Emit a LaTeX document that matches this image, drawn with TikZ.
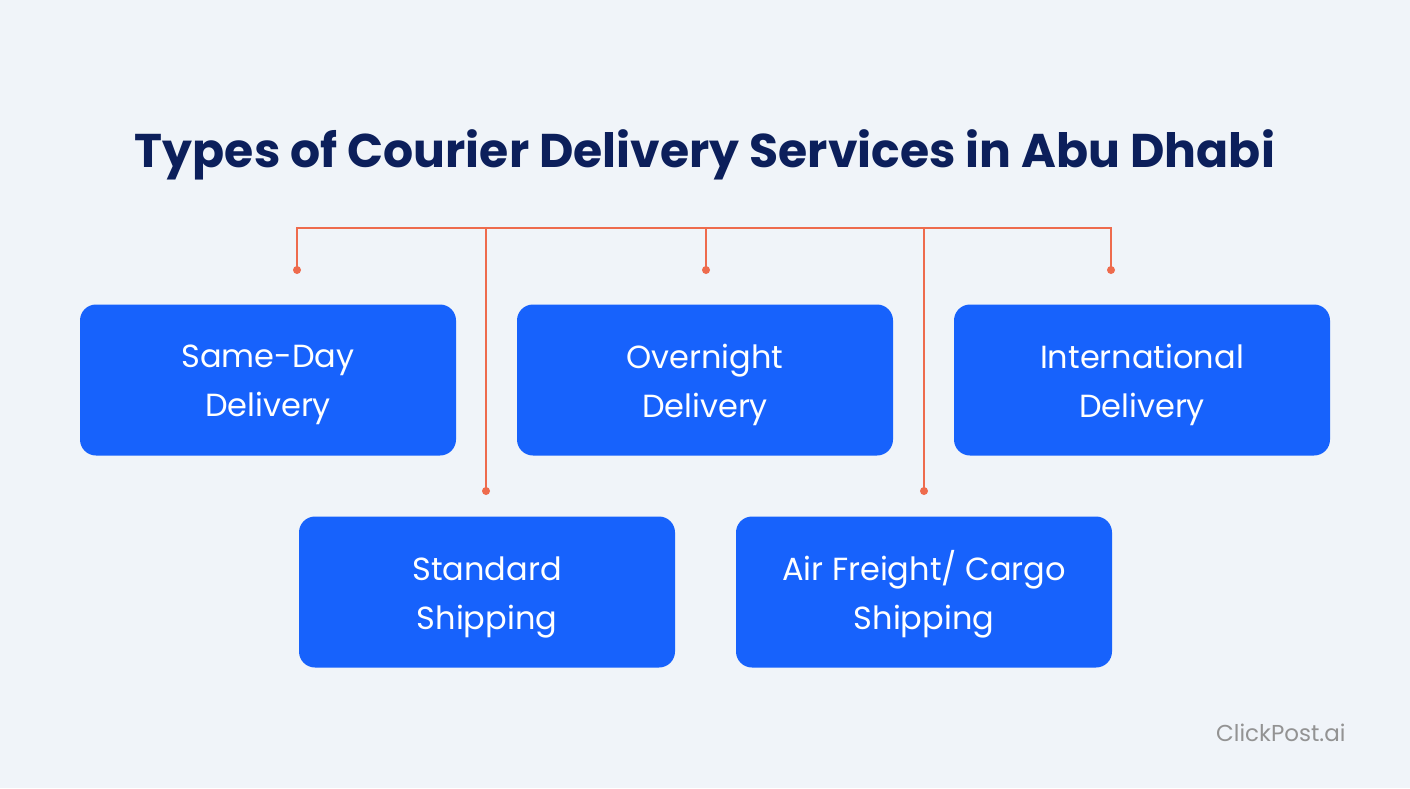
\documentclass[tikz,border=0pt]{standalone}
\usepackage{fontspec}
\setmainfont{Poppins}
\begin{document}
\begin{tikzpicture}[x=1pt,y=-1pt,
  box/.style={fill=boxblue,rounded corners=16pt,minimum width=376pt,minimum height=151pt,inner sep=0pt},
  conn/.style={draw=lineor,line width=1.6pt},
  lbl/.style={text=white,align=center,font=\fontsize{32}{49}\selectfont}]
\definecolor{bg}{HTML}{F0F4F9}
\definecolor{boxblue}{HTML}{1762FC}
\definecolor{lineor}{HTML}{EE6B4D}
\definecolor{navy}{HTML}{0C1F5B}
\fill[bg] (0,0) rectangle (1410,788);
\useasboundingbox (0,0) rectangle (1410,788);
\node[font=\bfseries\fontsize{47.3}{52}\selectfont,text=navy] (title) at (705,155) {Types of Courier Delivery Services in Abu Dhabi};
\node[box] (b1) at (268,380) {};
\node[box] (b2) at (705,380) {};
\node[box] (b3) at (1142,380) {};
\node[box] (b4) at (487,592) {};
\node[box] (b5) at (924,592) {};
\node[lbl] (l1) at ([yshift=-5pt]b1) {Same-Day\\Delivery};
\node[lbl] (l2) at ([yshift=-5pt]b2) {Overnight\\Delivery};
\node[lbl] (l3) at ([yshift=-5pt]b3) {International\\Delivery};
\node[lbl] (l4) at ([yshift=-5pt]b4) {Standard\\Shipping};
\node[lbl] (l5) at ([yshift=-2pt]b5) {Air Freight/ Cargo\\Shipping};
\coordinate (t1) at (297,270); \coordinate (t2) at (706,270); \coordinate (t3) at (1111,270);
\coordinate (t4) at (486,491); \coordinate (t5) at (924,491);
\draw[conn] (t1) -- (297,228) -- (1111,228) -- (t3);
\draw[conn] (706,228) -- (t2);
\draw[conn] (486,228) -- (t4);
\draw[conn] (924,228) -- (t5);
\foreach \c in {t1,t2,t3,t4,t5} \fill[lineor] (\c) circle (4pt);
\node[anchor=east,text=gray!85,font=\fontsize{23}{26}\selectfont] (logo) at (1349,733) {ClickPost.ai};
\end{tikzpicture}
\end{document}
